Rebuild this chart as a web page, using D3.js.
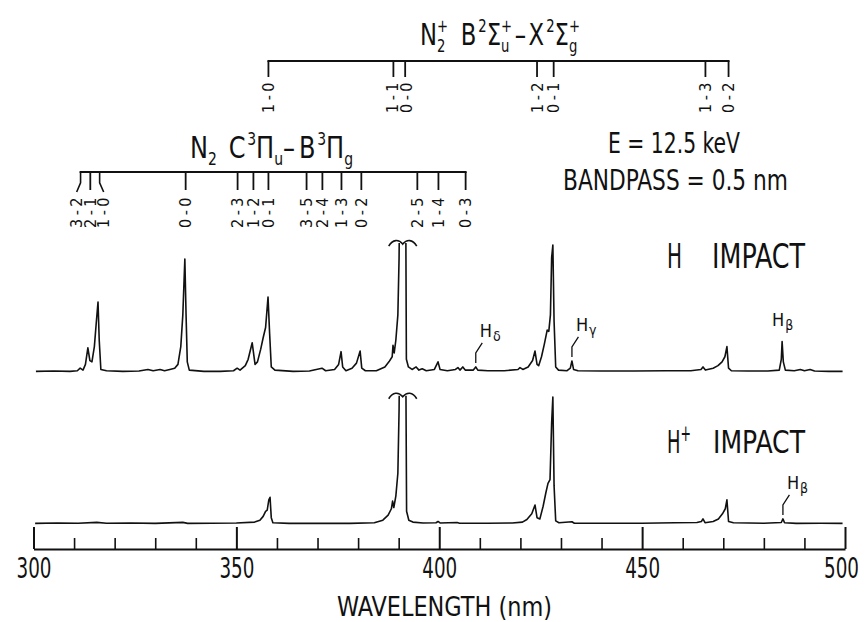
<!DOCTYPE html>
<html><head><meta charset="utf-8">
<script src="https://cdn.jsdelivr.net/npm/d3@7"></script>
<style>
body{margin:0;background:#fff}
svg{display:block;background:#fff}
text,tspan{font-family:'Liberation Sans Narrow','DejaVu Sans Condensed','Liberation Sans',sans-serif;fill:#111}
</style></head>
<body><svg id="c" width="866" height="622"></svg>
<script>
// ---------------- DATA ----------------
const axisDomain = [300, 500];
const majorTicks = [300, 350, 400, 450, 500];
const minorTicks = [310,320,330,340,360,370,380,390,410,420,430,440,460,470,480,490];
const axisTitle = "WAVELENGTH (nm)";

// N2 second positive system C3Pi_u - B3Pi_g band heads (nm)
const n2Bands = ["3-2","2-1","1-0","0-0","2-3","1-2","0-1","3-5","2-4","1-3","0-2","2-5","1-4","0-3"];
const n2Wavelengths = [311.6, 314.0, 316.3, 337.5, 350.3, 354.2, 357.9, 367.3, 371.2, 375.9, 380.8, 394.6, 399.8, 406.5];

// N2+ first negative system B2Sigma_u+ - X2Sigma_g+ band heads (nm)
const n2pBands = ["1-0","1-1","0-0","1-2","0-1","1-3","0-2"];
const n2pWavelengths = [357.9, 388.7, 391.6, 424.1, 428.2, 465.6, 471.3];

// H impact spectrum: [wavelength nm, relative intensity] (391.4 band off scale)
const hImpactSpectrum = [
 [300.6,0.5],[305,0.8],[309,0.5],[310.8,1],[311.5,3],[312.2,1.5],[312.8,6],[313.4,19],[313.9,9],[314.4,8],
 [315.0,20],[315.5,40],[315.9,55],[316.2,25],[316.6,2],[318,1],[322,0.5],[326,0.8],[328.2,2],[329.5,1],
 [331.2,2],[332.3,1],[333.6,2],[334.8,3],[335.6,6],[336.3,20],[336.8,45],[337.3,89],[337.6,45],[337.9,8],
 [338.4,1.5],[342,0.5],[346,0.5],[349.3,1],[350.2,3],[350.9,1.5],[352.2,5],[352.9,10],[353.9,23],[354.6,6],
 [355.2,8],[356.0,18],[356.6,27],[357.2,35],[357.8,59],[358.2,30],[358.6,4],[359.5,1.5],[364,0.5],[368,0.8],
 [371.1,3],[372,1],[374.2,2],[375.2,6],[375.8,16],[376.2,4],[377,1],[378.5,3],[379.6,7],[380.5,16.5],
 [380.9,3],[381.8,1],[384.5,1],[386.6,4],[387.6,8],[388.4,12],[388.6,21],[388.9,15],[389.3,25],[389.8,45],
 [390.1,90],[390.3,160],[391.7,160],[391.9,10],[392.4,4],[393.3,2],[394.3,4],[395.0,1.5],[395.8,2.5],[396.8,1],
 [398.8,2],[399.7,8],[400.2,2],[402,1],[404.0,2],[404.6,3.5],[405.1,1.5],[405.8,4],[406.4,1.5],[408.4,1.5],
 [409.0,4],[409.5,1.5],[412,1],[416,1],[419.4,2],[419.9,3.5],[420.6,2],[421.9,4],[423.0,9],[423.6,16.5],
 [424.1,6],[424.5,5],[425.2,12],[425.9,22],[426.6,33],[427.0,32],[427.4,45],[427.7,90],[428.0,100],[428.3,40],
 [428.7,4],[429.4,1.5],[431.5,1],[432.3,3],[432.7,8.7],[433.1,2],[434.2,1],[440,0.8],[448,0.8],[456,1],
 [462,1],[464.5,2],[465.0,4],[465.6,1.5],[467.5,3],[468.7,5],[469.7,8],[470.4,12],[470.9,20],[471.3,3],
 [472,1],[476,0.8],[481,0.8],[483.8,1.5],[484.3,10],[484.5,24],[484.8,8],[485.3,1.5],[487.5,1],[489.0,2],
 [490,1],[491.4,2],[492.5,0.8],[496,0.5],[499.4,0.5]
];

// H+ impact spectrum
const hPlusSpectrum = [
 [300.4,0.5],[306,0.8],[311,0.6],[315.6,1.3],[318,0.6],[324,0.8],[330,0.5],[336.8,1.3],[338,0.5],[344,0.6],
 [350,0.8],[354.5,1.5],[355.8,3],[356.6,6],[357.2,10],[357.6,11],[358.0,19],[358.3,21],[358.6,5],[359.0,1],
 [363,0.5],[370,0.5],[378,0.5],[384,1],[386.1,3],[387.4,7],[388.2,12],[388.5,18],[388.8,13],[389.3,22],
 [389.8,40],[390.1,90],[390.3,160],[391.7,160],[391.95,10],[392.5,3],[393.5,1.5],[396,0.8],[399.2,1],[399.7,2],
 [400.2,0.8],[404.4,1.2],[405,0.6],[412,0.6],[418,0.8],[420.5,1.5],[421.6,3.5],[422.8,8],[423.6,15],[424.1,5],
 [424.8,4],[425.6,14],[426.3,25],[426.8,32],[427.3,35],[427.7,80],[428.0,100],[428.3,30],[428.7,2.5],[429.5,1],
 [432.7,1.8],[433.3,0.6],[440,0.6],[450,0.6],[458,1],[463.5,1.2],[464.6,2],[465.0,4],[465.5,1],[467.5,2],
 [468.8,4],[469.8,8],[470.5,12],[470.9,19],[471.3,2],[472.5,1],[480,0.6],[484.3,1.2],[484.7,4],[485.1,1],
 [488,0.5],[494,0.6],[499.4,0.5]
];

// Balmer line labels
const hImpactLineNames = ["δ","γ","β"];
const hImpactLineWl = [409.0, 432.7, 484.5];
const hImpactLineLeader = [true, true, false];
const hPlusLineNames = ["β"];
const hPlusLineWl = [484.7];
const hPlusLineLeader = [true];
const offScaleWl = 391.0;

// ---------------- DRAW ----------------
const svg = d3.select("#c");
const ink = "#111";
const x = d3.scaleLinear().domain(axisDomain).range([33.5, 845]);
const yH = d3.scaleLinear().domain([0,100]).range([372,245]);
const yP = d3.scaleLinear().domain([0,100]).range([524,397]);

// axis
const axG = svg.append("g").attr("transform","translate(0,549)");
axG.call(d3.axisBottom(x).tickValues(majorTicks).tickSizeInner(-22).tickSizeOuter(0).tickPadding(9).tickFormat(d3.format("d")));
axG.attr("font-family",null).attr("font-size",null);
axG.selectAll("text").attr("font-size",28).attr("fill",ink)
   .attr("textLength",35).attr("lengthAdjust","spacingAndGlyphs")
   .attr("dx", d => d === axisDomain[1] ? -4 : 0);
axG.selectAll("line,path").attr("stroke",ink).attr("stroke-width",2);
const axG2 = svg.append("g").attr("transform","translate(0,549)");
axG2.call(d3.axisBottom(x).tickValues(minorTicks).tickSizeInner(-11).tickSizeOuter(0).tickFormat(()=>""));
axG2.select(".domain").remove();
axG2.selectAll("line").attr("stroke",ink).attr("stroke-width",1.6);

function fitText(str, left, right, baseline, size){
  const t = svg.append("text").attr("x",left).attr("y",baseline).attr("font-size",size).text(str);
  t.attr("textLength", right-left).attr("lengthAdjust","spacingAndGlyphs");
  return t;
}
fitText(axisTitle, 337, 552, 616, 27);

// spectra
svg.append("clipPath").attr("id","clipH").append("rect").attr("x",0).attr("y",yH(101.5)).attr("width",866).attr("height",400);
svg.append("clipPath").attr("id","clipP").append("rect").attr("x",0).attr("y",yP(101)).attr("width",866).attr("height",400);

function drawSpectrum(data, y, clipId){
  const line = d3.line().x(d=>x(d[0])).y(d=>y(d[1]));
  svg.append("path").datum(data).attr("d",line).attr("fill","none").attr("stroke",ink)
     .attr("stroke-width",1.6).attr("stroke-linejoin","round").attr("clip-path",`url(#${clipId})`);
}
drawSpectrum(hImpactSpectrum, yH, "clipH");
drawSpectrum(hPlusSpectrum, yP, "clipP");

function squiggle(cx, cy){
  svg.append("path").attr("d",`M${cx-14},${cy+3} C${cx-10},${cy-4} ${cx-4},${cy-4} ${cx},${cy+1} C${cx+4},${cy-4} ${cx+10},${cy-4} ${cx+14},${cy+3}`)
    .attr("fill","none").attr("stroke",ink).attr("stroke-width",1.6);
}
squiggle(x(offScaleWl), yH(101.5));
squiggle(x(offScaleWl), yP(101));

// Balmer labels
function peakAt(data, wl){ return d3.max(data.filter(d=>Math.abs(d[0]-wl)<0.4), d=>d[1]); }
function balmer(data, y, names, wls, leaders){
  names.forEach((n,i)=>{
    const px = x(wls[i]), py = y(peakAt(data, wls[i]));
    let tx, ty;
    if (leaders[i]) {
      svg.append("path").attr("d",`M${px},${py-4} V${py-14} L${px+6.5},${py-24}`)
        .attr("fill","none").attr("stroke",ink).attr("stroke-width",1.3);
      tx = px+4; ty = py-30;
    } else { tx = px-10; ty = py-16; }
    const t = svg.append("text").attr("x",tx).attr("y",ty).attr("font-size",18).attr("fill",ink).text("H");
    t.append("tspan").attr("font-size",14).attr("dy",4).attr("dx",1).attr("fill",ink).text(n);
  });
}
balmer(hImpactSpectrum, yH, hImpactLineNames, hImpactLineWl, hImpactLineLeader);
balmer(hPlusSpectrum, yP, hPlusLineNames, hPlusLineWl, hPlusLineLeader);

// band brackets
function spread(xs, gap){
  const p = xs.slice();
  for (let it=0; it<200; it++) for (let i=1;i<p.length;i++){ const d=p[i]-p[i-1]; if (d<gap){ const m=(gap-d)/2; p[i-1]-=m; p[i]+=m; } }
  return p;
}
function bracket(bands, wls, lineY, tickEnd, labelTop){
  const g = svg.append("g");
  const bx = wls.map(w=>x(w));
  const lx = spread(bx, 13.5);
  g.append("line").attr("x1",bx[0]-1).attr("x2",bx[bx.length-1]+1).attr("y1",lineY).attr("y2",lineY).attr("stroke",ink).attr("stroke-width",2.2);
  bands.forEach((b,i)=>{
    if (Math.abs(lx[i]-bx[i])>1.5){
      g.append("path").attr("d",`M${bx[i]},${lineY} V${lineY+(tickEnd-lineY)*0.6} L${lx[i]},${labelTop-2}`).attr("fill","none").attr("stroke",ink).attr("stroke-width",1.6);
    } else {
      g.append("line").attr("x1",bx[i]).attr("x2",bx[i]).attr("y1",lineY).attr("y2",tickEnd).attr("stroke",ink).attr("stroke-width",1.8);
    }
    g.append("text").attr("transform",`translate(${lx[i]},${labelTop}) rotate(-90)`).attr("text-anchor","end")
      .attr("dy","0.36em").attr("font-size",16).attr("letter-spacing",3.5).text(b);
  });
}
bracket(n2pBands, n2pWavelengths, 61, 77, 79);
bracket(n2Bands, n2Wavelengths, 172, 190, 194);

// rich text (sub/superscripts), scaled to target width
function richText(parts, size, left, right, baseline){
  const g = svg.append("g");
  let cx = 0, lastX = 0;
  parts.forEach(p=>{
    const fs = size*(p.s||1);
    const t = g.append("text").attr("y",(p.dy||0)*size).attr("font-size",fs).text(p.t);
    if (p.back){ t.attr("x",lastX); cx = Math.max(cx, lastX + t.node().getComputedTextLength()); }
    else { t.attr("x",cx); lastX = cx; cx += t.node().getComputedTextLength(); }
    cx += (p.gap||0)*size;
  });
  const bb = g.node().getBBox();
  const s = (right-left)/bb.width;
  g.attr("transform",`translate(${left-bb.x*s},${baseline}) scale(${s},1)`);
}
const SUP = -0.42, SUB = 0.22, SM = 0.58;
richText([
  {t:"N"},{t:"+",s:SM,dy:SUP},{t:"2",s:SM,dy:SUB,back:true,gap:0.5},
  {t:"B",gap:0.08},{t:"2",s:SM,dy:SUP},{t:"Σ"},{t:"+",s:SM,dy:SUP},{t:"u",s:SM,dy:SUB,back:true,gap:0.1},
  {t:"–",gap:0.1},{t:"X",gap:0.08},{t:"2",s:SM,dy:SUP},{t:"Σ"},{t:"+",s:SM,dy:SUP},{t:"g",s:SM,dy:SUB,back:true}
], 30, 420, 580, 45);
richText([
  {t:"N"},{t:"2",s:SM,dy:SUB,gap:0.45},
  {t:"C",gap:0.06},{t:"3",s:SM,dy:SUP},{t:"Π"},{t:"u",s:SM,dy:SUB},{t:"–",gap:0.15},
  {t:"B",gap:0.06},{t:"3",s:SM,dy:SUP},{t:"Π"},{t:"g",s:SM,dy:SUB}
], 30, 190, 353, 158);

fitText("E = 12.5 keV", 608, 740, 153, 29);
fitText("BANDPASS = 0.5 nm", 563, 788, 190, 29);

fitText("H", 667, 682, 268, 34);
fitText("IMPACT", 712, 805, 268, 34);
richText([{t:"H"},{t:"+",s:0.7,dy:-0.38}], 32, 667, 691, 453);
fitText("IMPACT", 713, 805, 453, 32);
</script></body></html>
